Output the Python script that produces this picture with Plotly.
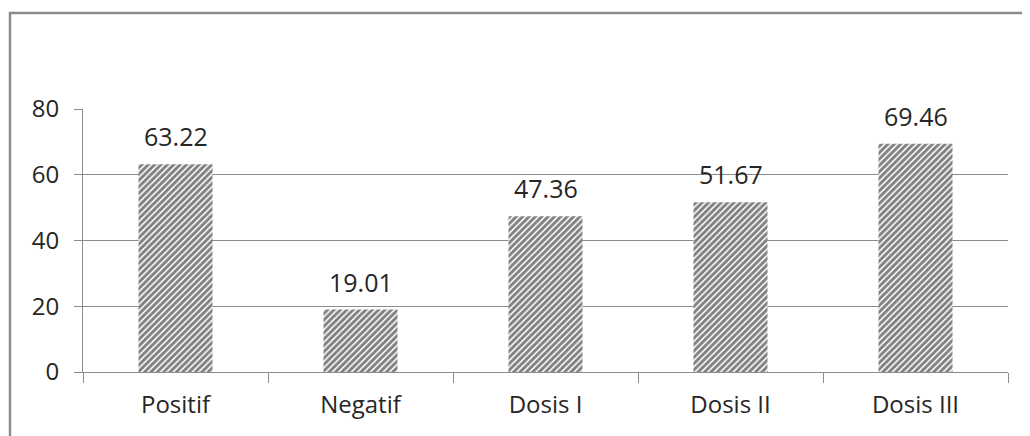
import plotly.graph_objects as go

categories = ["Positif", "Negatif", "Dosis I", "Dosis II", "Dosis III"]
values = [63.22, 19.01, 47.36, 51.67, 69.46]
value_labels = ["63.22", "19.01", "47.36", "51.67", "69.46"]
y_ticks = [0, 20, 40, 60, 80]

# page body has an 8px offset, so margins are shifted accordingly
OFF = 8
W, H = 1030, 436
L = 83 - OFF
T = 109 - OFF
R = W - (1008 - OFF)
B = H - (372 - OFF)
pw, ph = W - L - R, H - T - B

FONT = "Open Sans"
GRAY = "#8c8c8c"
TXT = "#262626"

fig = go.Figure()
fig.add_trace(go.Bar(
    x=categories, y=values, width=0.4,
    marker=dict(color="white",
                line=dict(width=0),
                pattern=dict(shape="/", fgcolor="black", bgcolor="white",
                             size=4.5, solidity=0.65)),
    hoverinfo="skip",
))

for c, v, t in zip(categories, values, value_labels):
    fig.add_annotation(x=c, y=v, text=t, showarrow=False, yanchor="middle",
                       yshift=28, font=dict(family=FONT, size=25, color=TXT))

# outer border (left and top edges visible)
x0 = (10 - OFF - L) / pw
y0 = 1 + (T - (13 - OFF)) / ph
fig.add_shape(type="path", xref="paper", yref="paper",
              path=f"M {x0} -1 L {x0} {y0} L 1.2 {y0}",
              line=dict(color=GRAY, width=2.5))

fig.update_layout(
    width=W, height=H,
    margin=dict(l=L, r=R, t=T, b=B, autoexpand=False),
    plot_bgcolor="white", paper_bgcolor="white",
    showlegend=False,
    font=dict(family=FONT, size=24, color=TXT),
    xaxis=dict(showgrid=False, showline=True, linecolor=GRAY, linewidth=1,
               ticks="outside", ticklen=10, tickcolor=GRAY, tickson="boundaries",
               ticklabelstandoff=11, zeroline=False),
    yaxis=dict(range=[0, 80], tickvals=y_ticks, showgrid=True, gridcolor=GRAY,
               gridwidth=1, showline=True, linecolor=GRAY, ticks="outside",
               ticklen=8, tickcolor=GRAY, ticklabelstandoff=10, zeroline=False),
)

fig.write_html("out.html")
